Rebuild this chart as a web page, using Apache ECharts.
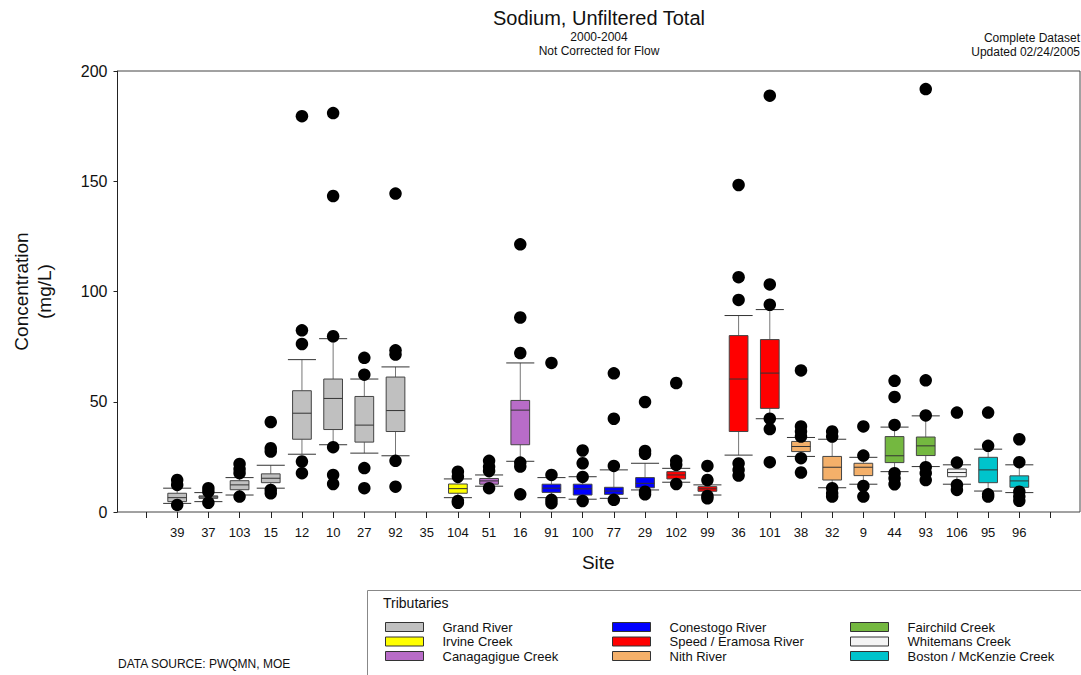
<!DOCTYPE html>
<html><head><meta charset="utf-8">
<script src="https://cdn.jsdelivr.net/npm/echarts@6/dist/echarts.min.js"></script>
<style>html,body{margin:0;padding:0;background:#fff}#c{width:1081px;height:675px}</style>
</head><body><div id="c"></div>
<script>
// ---------- DATA ----------
const sites = ['39','37','103','15','12','10','27','92','35','104','51','16','91','100','77','29','102','99','36','101','38','32','9','44','93','106','95','96'];
const tributaryOfSite = [
  'Grand River','Grand River','Grand River','Grand River','Grand River','Grand River','Grand River','Grand River','Grand River',
  'Irvine Creek','Canagagigue Creek','Canagagigue Creek',
  'Conestogo River','Conestogo River','Conestogo River','Conestogo River',
  'Speed / Eramosa River','Speed / Eramosa River','Speed / Eramosa River','Speed / Eramosa River',
  'Nith River','Nith River','Nith River',
  'Fairchild Creek','Fairchild Creek','Whitemans Creek',
  'Boston / McKenzie Creek','Boston / McKenzie Creek'];
const whiskerLow  = [3.9, 4.7, 7.7, 10.8, 26.2, 30.5, 26.7, 25.5, null, 6.5, 11.7, 23.0, 6.5, 5.8, 6.2, 10.0, 13.5, 7.7, 25.8, 42.3, 25.2, 11.0, 12.6, 18.3, 20.6, 12.6, 9.5, 8.8];
const q1          = [4.7, 6.2, 10.1, 13.3, 33.0, 37.4, 31.7, 36.5, null, 8.5, 12.6, 30.5, 8.9, 7.7, 8.0, 11.0, 15.0, 9.4, 36.5, 47.0, 27.4, 14.5, 16.5, 22.4, 25.6, 16.0, 13.3, 11.2];
const median      = [6.5, 6.8, 12.3, 15.3, 44.8, 51.5, 39.4, 46.0, null, 10.6, 14.1, 46.2, 10.8, 10.5, 9.5, 13.0, 16.8, 10.5, 60.3, 63.0, 29.7, 20.3, 20.3, 25.5, 30.0, 17.9, 19.1, 14.1];
const q3          = [8.5, 7.3, 14.2, 17.3, 55.0, 60.3, 52.4, 61.2, null, 12.7, 15.2, 50.6, 12.6, 12.6, 11.2, 15.6, 18.3, 11.5, 80.0, 78.2, 32.0, 25.2, 22.1, 34.2, 34.0, 19.5, 24.8, 16.4];
const whiskerHigh = [10.8, 8.8, 15.6, 21.2, 69.1, 78.6, 60.3, 65.8, null, 15.0, 16.8, 67.6, 15.6, 16.0, 19.1, 22.1, 19.8, 12.3, 89.1, 91.8, 33.8, 33.0, 24.8, 38.5, 43.6, 21.4, 28.5, 21.4];
const outliers = [
  [14.5, 12.3, 3.2],
  [10.8, 9.2, 4.2],
  [21.8, 19.5, 17.6, 7.0],
  [40.8, 28.9, 27.4, 10.0, 8.5],
  [179.5, 82.4, 76.2, 22.9, 17.6],
  [180.9, 143.3, 79.7, 29.4, 16.8, 12.7],
  [69.9, 62.3, 19.9, 10.8],
  [144.4, 73.3, 71.4, 23.2, 11.5],
  [],
  [18.3, 16.0, 5.0, 4.2],
  [23.2, 20.5, 18.6, 10.8],
  [121.4, 88.2, 72.1, 22.4, 20.6, 8.0],
  [67.6, 16.8, 5.5, 4.0],
  [27.9, 22.1, 15.9, 5.0],
  [62.9, 42.3, 20.9, 5.5],
  [49.9, 27.7, 26.4, 9.2, 8.0],
  [58.5, 23.2, 21.4, 12.7],
  [20.9, 14.5, 7.3, 6.2],
  [148.3, 106.5, 96.2, 22.0, 19.1, 16.5],
  [188.8, 103.2, 94.0, 42.3, 37.6, 22.6],
  [64.2, 38.8, 36.5, 34.2, 24.4, 17.9],
  [36.5, 34.2, 10.8, 8.5, 7.0],
  [38.8, 25.6, 11.8, 7.0],
  [59.5, 52.2, 39.5, 17.6, 15.3, 12.6],
  [191.8, 59.7, 43.8, 20.3, 17.6, 14.5],
  [45.1, 22.4, 12.3, 10.0],
  [45.1, 30.0, 8.0, 7.0],
  [33.0, 22.6, 9.2, 7.0, 5.1]
];
const tributaries = ['Grand River','Irvine Creek','Canagagigue Creek','Conestogo River','Speed / Eramosa River','Nith River','Fairchild Creek','Whitemans Creek','Boston / McKenzie Creek'];
const tributaryColors = ['#c0c0c0','#ffff00','#b86cc8','#0000ff','#ff0000','#f4b06a','#74b840','#f4f4f4','#00c4cc'];
const yTicks = [0, 50, 100, 150, 200];

// ---------- CHART ----------
const FONT = '"Liberation Sans", Arial, sans-serif';
const axisCats = [''].concat(sites, ['']);
const chart = echarts.init(document.getElementById('c'), null, {renderer: 'svg'});

function renderBox(params, api) {
  const x = api.value(0);
  const pLow = api.coord([x, api.value(1)]);
  const pQ1 = api.coord([x, api.value(2)]);
  const pMed = api.coord([x, api.value(3)]);
  const pQ3 = api.coord([x, api.value(4)]);
  const pHigh = api.coord([x, api.value(5)]);
  const band = api.size([1, 0])[0];
  const bw = band * 0.6, cw = band * 0.9;
  const cx = pMed[0];
  const fill = api.visual('color');
  return {
    type: 'group',
    children: [
      {type: 'line', shape: {x1: cx, y1: pHigh[1], x2: cx, y2: pQ3[1]}, style: {stroke: '#777', lineWidth: 1}},
      {type: 'line', shape: {x1: cx, y1: pQ1[1], x2: cx, y2: pLow[1]}, style: {stroke: '#777', lineWidth: 1}},
      {type: 'line', shape: {x1: cx - cw / 2, y1: pHigh[1], x2: cx + cw / 2, y2: pHigh[1]}, style: {stroke: '#333', lineWidth: 1}},
      {type: 'line', shape: {x1: cx - cw / 2, y1: pLow[1], x2: cx + cw / 2, y2: pLow[1]}, style: {stroke: '#333', lineWidth: 1}},
      {type: 'rect', shape: {x: cx - bw / 2, y: pQ3[1], width: bw, height: pQ1[1] - pQ3[1]}, style: {fill: fill, stroke: '#444', lineWidth: 1}},
      {type: 'line', shape: {x1: cx - bw / 2, y1: pMed[1], x2: cx + bw / 2, y2: pMed[1]}, style: {stroke: '#333', lineWidth: 1}}
    ]
  };
}

const boxSeries = tributaries.map((t, k) => ({
  type: 'custom',
  name: t,
  xAxisIndex: 1, yAxisIndex: 1,
  itemStyle: {color: tributaryColors[k], borderColor: '#333', borderWidth: 1},
  encode: {x: 0, y: [1, 2, 3, 4, 5]},
  renderItem: renderBox,
  z: 2,
  data: sites.map((s, i) => (tributaryOfSite[i] === t && median[i] != null)
    ? [i + 1, whiskerLow[i], q1[i], median[i], q3[i], whiskerHigh[i]] : null).filter(Boolean)
}));

const outlierData = [];
outliers.forEach((arr, i) => arr.forEach(v => outlierData.push([i + 1, v])));

const legendCommon = {
  orient: 'vertical', icon: 'rect', itemWidth: 38, itemHeight: 9, itemGap: 0.5, padding: 0,
  selectedMode: false,
  itemStyle: {borderColor: '#333', borderWidth: 1},
  textStyle: {fontFamily: FONT, fontSize: 13, lineHeight: 14, color: '#111', padding: [0, 0, 0, 14]}
};

chart.setOption({
  animation: false,
  backgroundColor: '#fff',
  grid: [
    {left: 117.5, top: 71, width: 962.5, height: 441, show: true, borderColor: '#444', borderWidth: 1},
    {left: 130.4, top: 71, width: 935.7, height: 441}
  ],
  xAxis: [
    {gridIndex: 0, type: 'value', min: 0, max: 1, show: false},
    {gridIndex: 1, type: 'category', data: axisCats, boundaryGap: true,
     axisLine: {show: false},
     axisTick: {show: true, alignWithLabel: true, interval: 0, length: 6, lineStyle: {color: '#222'}},
     axisLabel: {interval: 0, fontFamily: FONT, fontSize: 13, color: '#111', margin: 14},
     name: 'Site', nameLocation: 'middle', nameGap: 41,
     nameTextStyle: {fontFamily: FONT, fontSize: 19, color: '#111'}}
  ],
  yAxis: [
    {gridIndex: 0, type: 'value', min: yTicks[0], max: yTicks[yTicks.length - 1], interval: 50,
     axisLine: {show: true, lineStyle: {color: '#222'}},
     axisTick: {show: true, length: 4, lineStyle: {color: '#222'}},
     splitLine: {show: false},
     axisLabel: {fontFamily: FONT, fontSize: 16, color: '#111', margin: 10},
     name: 'Concentration\n(mg/L)', nameLocation: 'middle', nameGap: 62, nameRotate: 90,
     nameTextStyle: {fontFamily: FONT, fontSize: 19, lineHeight: 23, color: '#111'}},
    {gridIndex: 1, type: 'value', min: yTicks[0], max: yTicks[yTicks.length - 1], show: false}
  ],
  legend: [
    Object.assign({left: 385, top: 620, data: tributaries.slice(0, 3)}, legendCommon),
    Object.assign({left: 612, top: 620, data: tributaries.slice(3, 6)}, legendCommon),
    Object.assign({left: 850, top: 620, data: tributaries.slice(6, 9)}, legendCommon)
  ],
  graphic: [
    {type: 'text', x: 599, y: 18, style: {text: 'Sodium, Unfiltered Total', font: '20px ' + FONT, fill: '#111', textAlign: 'center', textVerticalAlign: 'middle'}},
    {type: 'text', x: 599, y: 37, style: {text: '2000-2004', font: '12px ' + FONT, fill: '#111', textAlign: 'center', textVerticalAlign: 'middle'}},
    {type: 'text', x: 599, y: 51, style: {text: 'Not Corrected for Flow', font: '12px ' + FONT, fill: '#111', textAlign: 'center', textVerticalAlign: 'middle'}},
    {type: 'text', x: 1080, y: 38, style: {text: 'Complete Dataset', font: '12px ' + FONT, fill: '#111', textAlign: 'right', textVerticalAlign: 'middle'}},
    {type: 'text', x: 1080, y: 52, style: {text: 'Updated 02/24/2005', font: '12px ' + FONT, fill: '#111', textAlign: 'right', textVerticalAlign: 'middle'}},
    {type: 'rect', shape: {x: 367.5, y: 590.5, width: 730, height: 100}, style: {fill: 'none', stroke: '#888', lineWidth: 1}, z: -1},
    {type: 'text', x: 383, y: 603, style: {text: 'Tributaries', font: '14px ' + FONT, fill: '#111', textAlign: 'left', textVerticalAlign: 'middle'}},
    {type: 'text', x: 118, y: 664, style: {text: 'DATA SOURCE: PWQMN, MOE', font: '12px ' + FONT, fill: '#111', textAlign: 'left', textVerticalAlign: 'middle'}}
  ],
  series: boxSeries.concat([{
    type: 'scatter', name: 'Outliers', xAxisIndex: 1, yAxisIndex: 1,
    symbol: 'circle', symbolSize: 12.5, itemStyle: {color: '#000', opacity: 1}, z: 5,
    data: outlierData
  }])
});
</script>
</body></html>
